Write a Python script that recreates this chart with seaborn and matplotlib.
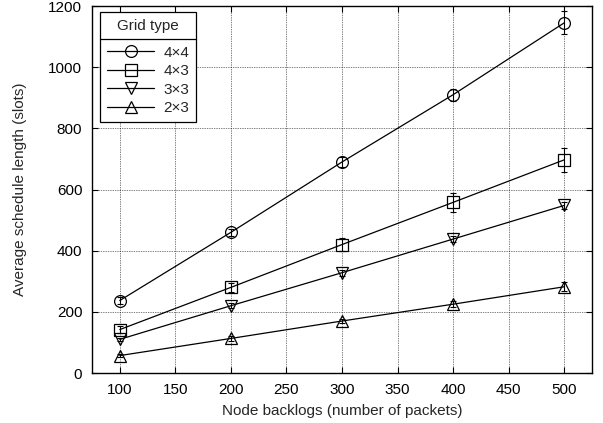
import numpy as np
import pandas as pd
import seaborn as sns
import matplotlib
matplotlib.use('Agg')
import matplotlib.pyplot as plt
from matplotlib.lines import Line2D

# values
backlogs = [100, 200, 300, 400, 500]
grids = ['4×4', '4×3', '3×3', '2×3']
mean_4x4 = [237, 460, 690, 910, 1145]
mean_4x3 = [142, 280, 420, 558, 697]
mean_3x3 = [110, 220, 328, 438, 548]
mean_2x3 = [57, 113, 170, 225, 282]
err_4x4 = [10, 12, 15, 20, 38]
err_4x3 = [12, 15, 22, 30, 40]
err_3x3 = [6, 8, 10, 10, 12]
err_2x3 = [6, 8, 8, 10, 14]
marker_of = {'4×4': 'o', '4×3': 's', '3×3': 'v', '2×3': '^'}

means = [mean_4x4, mean_4x3, mean_3x3, mean_2x3]
errs = [err_4x4, err_4x3, err_3x3, err_2x3]
df = pd.DataFrame({
    'backlog': np.tile(backlogs, len(grids)),
    'length': np.concatenate(means),
    'err': np.concatenate(errs),
    'grid': np.repeat(grids, len(backlogs)),
})

sns.set_style('ticks')
plt.rcParams['font.family'] = ['Liberation Sans', 'DejaVu Sans']
plt.rcParams['font.size'] = 11

fig = plt.figure(figsize=(6.03, 4.23), dpi=100)
ax = fig.add_axes([0.1526, 0.1182, 0.8292, 0.8676])

for g in grids:
    d = df[df['grid'] == g]
    ax.errorbar(d['backlog'], d['length'], yerr=d['err'], fmt='none',
                ecolor='black', elinewidth=0.8, capsize=2.5, capthick=0.8, zorder=3)

sns.lineplot(data=df, x='backlog', y='length', style='grid', markers=marker_of,
             dashes=False, color='black', linewidth=0.9, markersize=8.5,
             markerfacecolor='none', markeredgecolor='black', markeredgewidth=0.9,
             legend=False, ax=ax, zorder=4)

ax.set_xlim(75, 525)
ax.set_ylim(0, 1200)
ax.set_xticks(np.arange(100, 501, 50))
ax.set_yticks(np.arange(0, 1201, 200))
ax.grid(True, color='black', linestyle=(0, (1, 1.5)), linewidth=0.5)
ax.tick_params(direction='in', top=True, right=True, length=4, width=0.8,
               labelsize=11, colors='black', pad=7)
for s in ax.spines.values():
    s.set_color('black')
    s.set_linewidth(1.0)
ax.set_xlabel('Node backlogs (number of packets)', fontsize=11, labelpad=5)
ax.set_ylabel('Average schedule length (slots)', fontsize=11, labelpad=15)

handles = [Line2D([], [], color='black', lw=0.9, marker=marker_of[g], markersize=8.5,
                  markerfacecolor='none', markeredgewidth=0.9) for g in grids]
leg = ax.legend(handles, grids, title='Grid type', loc='upper left',
                bbox_to_anchor=(0.016, 0.983), frameon=True, fancybox=False,
                edgecolor='black', framealpha=1, fontsize=11, title_fontsize=11,
                handlelength=3.1, handletextpad=0.6, labelspacing=0.3,
                borderpad=0.45, borderaxespad=0)
leg.get_frame().set_linewidth(0.9)
leg._legend_box.sep = 9

# separator line under legend title
fig.canvas.draw()
r = fig.canvas.get_renderer()
box = leg.get_frame().get_window_extent(r)
tb = leg.get_title().get_window_extent(r)
yline = tb.y0 - 6
inv = fig.transFigure.inverted()
(x0, yl), (x1, _) = inv.transform([(box.x0, yline), (box.x1, yline)])
fig.add_artist(Line2D([x0, x1], [yl, yl], color='black', lw=0.9, zorder=10))

fig.savefig('out.png', dpi=100)
